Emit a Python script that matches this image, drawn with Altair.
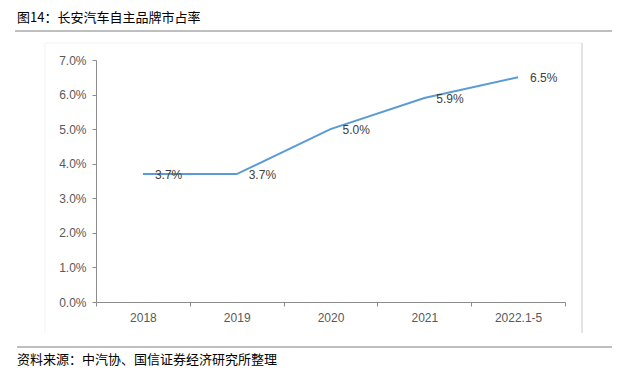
import altair as alt
import pandas as pd

categories = ["2018", "2019", "2020", "2021", "2022.1-5"]
share = [0.037, 0.037, 0.050, 0.059, 0.065]
labels = ["3.7%", "3.7%", "5.0%", "5.9%", "6.5%"]

title_text = "图14：长安汽车自主品牌市占率"
source_text = "资料来源：中汽协、国信证券经济研究所整理"

df = pd.DataFrame({"cat": categories, "v": share, "lab": labels})

W, H = 469, 242
FONT = "Liberation Sans"
CJK = "Noto Sans CJK SC"

x_enc = alt.X(
    "cat:N",
    sort=categories,
    scale=alt.Scale(type="band", paddingInner=0, paddingOuter=0),
    axis=alt.Axis(
        title=None, labelAngle=0, tickBand="extent", labelFont=FONT,
        labelFontSize=12, labelColor="#595959", domainColor="#8c8c8c",
        tickColor="#8c8c8c", tickSize=4, labelPadding=6, grid=False,
    ),
)
y_enc = alt.Y(
    "v:Q",
    scale=alt.Scale(domain=[0, 0.07], nice=False),
    axis=alt.Axis(
        title=None, format=".1%", values=[0, 0.01, 0.02, 0.03, 0.04, 0.05, 0.06, 0.07],
        labelFont=FONT, labelFontSize=12, labelColor="#595959",
        domainColor="#8c8c8c", tickColor="#8c8c8c", tickSize=4, labelPadding=6, grid=False,
    ),
)

base = alt.Chart(df)
line = base.mark_line(color="#5B9BD5", strokeWidth=2).encode(x=x_enc, y=y_enc)
text = base.mark_text(align="left", baseline="middle", dx=12, dy=1, font=FONT,
                      fontSize=12, color="#404040").encode(x=x_enc, y=y_enc, text="lab:N")

deco = alt.Chart(pd.DataFrame({"a": [0]}))
title = deco.mark_text(align="left", baseline="middle", font=CJK, fontSize=13,
                       color="#000000", clip=False).encode(
    x=alt.value(-79), y=alt.value(-42), text=alt.value(title_text))
source = deco.mark_text(align="left", baseline="middle", font=CJK, fontSize=13,
                        color="#000000", clip=False).encode(
    x=alt.value(-79), y=alt.value(300), text=alt.value(source_text))
top_rule = deco.mark_rule(color="#7f7f7f", strokeWidth=1).encode(
    x=alt.value(-81), x2=alt.value(516), y=alt.value(-29))
bottom_rule = deco.mark_rule(color="#7f7f7f", strokeWidth=1).encode(
    x=alt.value(-79), x2=alt.value(516), y=alt.value(287))
right_rule = deco.mark_rule(color="#c8c8c8", strokeWidth=1).encode(
    x=alt.value(486), y=alt.value(-17), y2=alt.value(273))
frame_top = deco.mark_rule(color="#f2f2f2", strokeWidth=1).encode(
    x=alt.value(-51), x2=alt.value(486), y=alt.value(-17))
frame_left = deco.mark_rule(color="#f2f2f2", strokeWidth=1).encode(
    x=alt.value(-51), y=alt.value(-17), y2=alt.value(273))

chart = alt.layer(
    frame_top, frame_left, right_rule, top_rule, bottom_rule, title, source, line, text
).properties(
    width=W, height=H,
    padding={"left": 88, "top": 52, "right": 56, "bottom": 66},
    autosize=alt.AutoSizeParams(type="none"),
    background="#ffffff",
).configure_view(stroke=None)

chart.save("out.html", embed_options={"renderer": "svg", "actions": False})
